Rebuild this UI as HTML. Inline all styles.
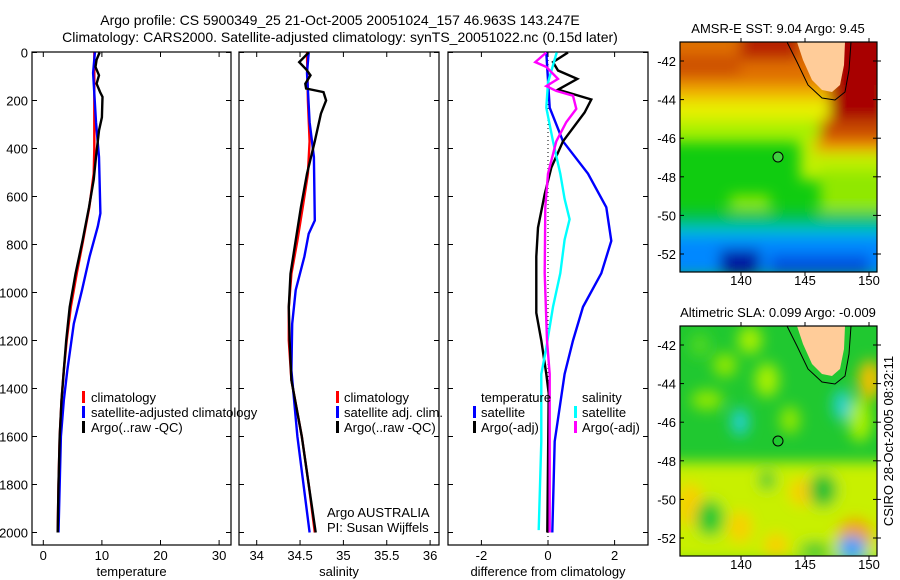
<!DOCTYPE html>
<html><head><meta charset="utf-8"><style>
html,body{margin:0;padding:0;background:#fff;}
svg{display:block;font-family:"Liberation Sans",sans-serif;}
</style></head><body>
<svg id="fig" width="900" height="580" viewBox="0 0 900 580" xmlns="http://www.w3.org/2000/svg">
<defs>
<filter id="bl" x="-20%" y="-20%" width="140%" height="140%"><feGaussianBlur stdDeviation="7"/></filter>
<clipPath id="c1"><rect x="680" y="42" width="197" height="230"/></clipPath>
<clipPath id="c2"><rect x="680" y="326" width="197" height="230"/></clipPath>
<clipPath id="p1"><rect x="32" y="52" width="199" height="493"/></clipPath>
<clipPath id="p2"><rect x="239" y="52" width="200" height="493"/></clipPath>
<clipPath id="p3"><rect x="448" y="52" width="200" height="493"/></clipPath>
</defs>
<text x="340" y="25" font-size="14" text-anchor="middle">Argo profile: CS 5900349_25 21-Oct-2005 20051024_157 46.963S 143.247E</text>
<text x="340" y="42" font-size="14" text-anchor="middle">Climatology: CARS2000. Satellite-adjusted climatology: synTS_20051022.nc (0.15d later)</text>

<!-- SST map -->
<g clip-path="url(#c1)">
<rect x="680" y="42" width="197" height="230" fill="#10cc10"/>
<g filter="url(#bl)">
<rect x="660" y="30" width="240" height="60" fill="#e07000"/>
<rect x="740" y="30" width="60" height="30" fill="#b82000"/>
<rect x="660" y="55" width="80" height="20" fill="#cc5000"/>
<rect x="660" y="85" width="240" height="20" fill="#f0b000"/>
<rect x="660" y="100" width="240" height="22" fill="#e8f000"/>
<rect x="660" y="120" width="240" height="22" fill="#a8f000"/>
<rect x="800" y="140" width="100" height="40" fill="#c0f000"/>
<rect x="820" y="170" width="80" height="50" fill="#90e800"/>
<rect x="730" y="195" width="40" height="15" fill="#90e800"/>
<rect x="660" y="212" width="240" height="14" fill="#00c060"/>
<rect x="660" y="226" width="240" height="12" fill="#00c0d0"/>
<rect x="660" y="236" width="240" height="40" fill="#0088ff"/>
<rect x="720" y="250" width="40" height="25" fill="#0010a0"/>
<rect x="770" y="255" width="100" height="20" fill="#0050e0"/>
<rect x="830" y="30" width="60" height="110" fill="#a80000"/>
<rect x="820" y="120" width="70" height="25" fill="#c84800"/>
<rect x="815" y="140" width="75" height="12" fill="#f09000"/>
</g>
<path d="M797,42 L803,60 L812,80 L822,90 L832,92 L840,85 L844,65 L845,42 Z" fill="#ffcc99"/>
<path d="M787,42 L797,62 L808,85 L822,98 L835,100 L845,92 L849,70 L851,42" fill="none" stroke="#000" stroke-width="1"/>
<circle cx="778" cy="157" r="5" fill="#40d040" stroke="#000" stroke-width="1"/>
</g>
<rect x="680" y="42" width="197" height="230" fill="none" stroke="#000" stroke-width="1.2"/>
<text x="778" y="33" font-size="13" text-anchor="middle">AMSR-E SST: 9.04 Argo: 9.45</text>

<!-- SLA map -->
<g clip-path="url(#c2)">
<rect x="680" y="326" width="197" height="230" fill="#20c830"/>
<g filter="url(#bl)">
<rect x="660" y="462" width="240" height="100" fill="#c8f000"/>
<ellipse cx="750" cy="340" rx="12" ry="14" fill="#a8f000"/>
<ellipse cx="767" cy="380" rx="12" ry="17" fill="#a8f000"/>
<ellipse cx="707" cy="400" rx="16" ry="10" fill="#90e800"/>
<ellipse cx="860" cy="420" rx="12" ry="22" fill="#a8f000"/>
<ellipse cx="725" cy="365" rx="12" ry="12" fill="#90e800"/>
<ellipse cx="790" cy="420" rx="10" ry="14" fill="#90e800"/>
<ellipse cx="700" cy="345" rx="10" ry="12" fill="#50d820"/>
<ellipse cx="870" cy="380" rx="12" ry="20" fill="#f0c000"/>
<ellipse cx="690" cy="505" rx="14" ry="22" fill="#f8d000"/>
<ellipse cx="740" cy="527" rx="12" ry="16" fill="#f8d000"/>
<ellipse cx="803" cy="492" rx="14" ry="14" fill="#f8d000"/>
<ellipse cx="855" cy="535" rx="18" ry="17" fill="#f0a000"/>
<ellipse cx="776" cy="545" rx="12" ry="12" fill="#f8d000"/>
<ellipse cx="710" cy="518" rx="14" ry="18" fill="#20c830"/>
<ellipse cx="823" cy="490" rx="14" ry="17" fill="#20c030"/>
<ellipse cx="767" cy="480" rx="8" ry="10" fill="#30c830"/>
<ellipse cx="815" cy="550" rx="16" ry="8" fill="#30c830"/>
<ellipse cx="740" cy="422" rx="9" ry="14" fill="#20d0d0"/>
<ellipse cx="842" cy="405" rx="9" ry="16" fill="#20d0d0"/>
<ellipse cx="852" cy="548" rx="14" ry="12" fill="#30a0ff"/>
</g>
<path d="M797,326 L803,344 L812,364 L822,374 L832,376 L840,369 L844,349 L845,326 Z" fill="#ffcc99"/>
<path d="M787,326 L797,346 L808,369 L822,382 L835,384 L845,376 L849,354 L851,326" fill="none" stroke="#000" stroke-width="1"/>
<circle cx="778" cy="441" r="5" fill="#20c830" stroke="#000" stroke-width="1"/>
</g>
<rect x="680" y="326" width="197" height="230" fill="none" stroke="#000" stroke-width="1.2"/>
<text x="778" y="317" font-size="13" text-anchor="middle">Altimetric SLA: 0.099 Argo: -0.009</text>
<text x="0" y="0" font-size="13" text-anchor="middle" transform="translate(893,441) rotate(-90)">CSIRO 28-Oct-2005 08:32:11</text>

<g id="axes"></g>
<g id="lines"></g>
<g id="legends">
<rect x="82" y="391" width="3" height="12" fill="#f00"/><text x="91" y="402" font-size="13">climatology</text>
<rect x="82" y="406" width="3" height="12" fill="#00f"/><text x="91" y="417" font-size="13">satellite-adjusted climatology</text>
<rect x="82" y="421" width="3" height="12" fill="#000"/><text x="91" y="432" font-size="13">Argo(..raw -QC)</text>
<rect x="336" y="391" width="3" height="12" fill="#f00"/><text x="344" y="402" font-size="13">climatology</text>
<rect x="336" y="406" width="3" height="12" fill="#00f"/><text x="344" y="417" font-size="13">satellite adj. clim.</text>
<rect x="336" y="421" width="3" height="12" fill="#000"/><text x="344" y="432" font-size="13">Argo(..raw -QC)</text>
<text x="327" y="517" font-size="13">Argo AUSTRALIA</text>
<text x="327" y="532" font-size="13">PI: Susan Wijffels</text>
<text x="481" y="402" font-size="13">temperature</text>
<rect x="473" y="406" width="3" height="12" fill="#00f"/><text x="481" y="417" font-size="13">satellite</text>
<rect x="473" y="421" width="3" height="12" fill="#000"/><text x="481" y="432" font-size="13">Argo(-adj)</text>
<text x="582" y="402" font-size="13">salinity</text>
<rect x="574" y="406" width="3" height="12" fill="#0ff"/><text x="582" y="417" font-size="13">satellite</text>
<rect x="574" y="421" width="3" height="12" fill="#f0f"/><text x="582" y="432" font-size="13">Argo(-adj)</text>
</g>
</svg>
<script>
// depth ticks
const depthTicks = [0,200,400,600,800,1000,1200,1400,1600,1800,2000];
const tTicks = [0,10,20,30];
const sTicks = [34,34.5,35,35.5,36];
const dTicks = [-2,0,2];
const latTicks = [-42,-44,-46,-48,-50,-52];
const lonTicks = [140,145,150];
// temperature panel
const tClimD = [0,100,200,300,400,505,645,783,922,1061,1200,1325,1450,1600,1800,2000];
const tClimV = [8.7,8.7,8.7,8.7,8.7,8.6,7.85,6.8,5.7,4.7,4.0,3.5,3.1,2.8,2.6,2.45];
const tSatD = [0,85,290,435,670,725,850,990,1130,1325,1450,1600,1800,2000];
const tSatV = [8.8,8.5,9.0,9.5,9.75,9.3,7.9,6.6,5.2,4.1,3.5,3.0,2.8,2.6];
const tArgoD = [0,30,60,95,130,165,185,270,325,435,530,645,783,922,1061,1200,1325,1450,1600,1800,2000];
const tArgoV = [9.6,9.1,8.9,9.5,9.1,9.7,10.1,10.0,9.5,9.0,8.6,7.8,6.7,5.5,4.5,3.9,3.5,3.1,2.8,2.6,2.45];
// salinity panel
const sClimD = [0,200,370,505,645,783,922,1061,1200,1365,1600,1800,2000];
const sClimV = [34.58,34.59,34.61,34.59,34.53,34.47,34.40,34.37,34.37,34.40,34.52,34.60,34.67];
const sSatD = [0,85,290,435,700,755,850,990,1130,1325,1600,1800,2000];
const sSatV = [34.60,34.58,34.61,34.66,34.67,34.60,34.55,34.45,34.41,34.40,34.47,34.54,34.61];
const sArgoD = [0,40,70,95,130,150,165,200,255,370,505,645,783,922,1061,1200,1365,1600,1800,2000];
const sArgoV = [34.60,34.49,34.57,34.62,34.56,34.57,34.77,34.80,34.74,34.67,34.58,34.51,34.45,34.39,34.37,34.38,34.40,34.52,34.60,34.68];
// difference panel
const dTSatD = [0,230,370,505,645,785,920,1060,1200,1340,1620,2000];
const dTSatV = [-0.05,0.05,0.45,1.2,1.75,1.9,1.6,1.05,0.75,0.5,0.2,0.13];
const dTArgoD = [0,40,75,110,155,175,196,250,370,480,590,730,850,1085,1200,1340,1420,2000];
const dTArgoV = [0.6,0.15,0.3,0.88,0.3,0.8,1.3,1.1,0.45,0.1,-0.1,-0.3,-0.35,-0.35,-0.2,-0.05,0.02,-0.02];
const dSSatD = [0,125,230,370,505,610,695,780,920,1060,1230,1340,1620,1990];
const dSSatV = [0.26,0,-0.05,0.15,0.37,0.5,0.65,0.5,0.37,0.15,-0.05,-0.2,-0.2,-0.28];
const dSArgoD = [0,40,60,110,140,160,180,235,290,370,505,645,920,1200,1340,2000];
const dSArgoV = [-0.05,-0.38,-0.05,0.3,-0.05,0.25,0.75,0.85,0.55,0.25,0,-0.08,-0.1,-0.03,0.05,0.05];

const NS='http://www.w3.org/2000/svg';
const yD = d => 52.5 + d*0.24;
const xT = v => 43.3 + v*5.86;
const xS = v => 256.7 + (v-34)*86.7;
const xDf = v => 548 + v*33.3;
const yLat1 = l => 61 + (-42 - l)*19.3;
const yLat2 = l => 345 + (-42 - l)*19.3;
const xLon = l => 741 + (l-140)*12.8;
const axes=document.getElementById('axes'), lines=document.getElementById('lines');
function mk(tag, attrs, parent){const e=document.createElementNS(NS,tag);for(const k in attrs)e.setAttribute(k,attrs[k]);parent.appendChild(e);return e;}
const panels=[
 {x0:32,x1:231,ticks:tTicks,fx:xT,lbl:'temperature',name:'temperature-panel',clip:'p1',fmt:v=>v},
 {x0:239,x1:439,ticks:sTicks,fx:xS,lbl:'salinity',name:'salinity-panel',clip:'p2',fmt:v=>v},
 {x0:448,x1:648,ticks:dTicks,fx:xDf,lbl:'difference from climatology',name:'difference-panel',clip:'p3',fmt:v=>v}];
panels.forEach((p,i)=>{
 const r=mk('rect',{x:p.x0,y:52,width:p.x1-p.x0,height:493,fill:'none',stroke:'#000','stroke-width':1.2},axes);
 
 
 depthTicks.forEach(d=>{
  mk('line',{x1:p.x0,x2:p.x0+5,y1:yD(d),y2:yD(d),stroke:'#000'},axes);
  mk('line',{x1:p.x1-5,x2:p.x1,y1:yD(d),y2:yD(d),stroke:'#000'},axes);
  if(i===0){const t=mk('text',{x:28,y:yD(d)+5,'font-size':13,'text-anchor':'end'},axes);t.textContent=d;
   
   }
 });
 p.ticks.forEach(v=>{
  const x=p.fx(v);
  mk('line',{x1:x,x2:x,y1:52,y2:57,stroke:'#000'},axes);
  mk('line',{x1:x,x2:x,y1:540,y2:545,stroke:'#000'},axes);
  const t=mk('text',{x:x,y:560,'font-size':13,'text-anchor':'middle'},axes);t.textContent=p.fmt(v);
  
  
 });
 const xl=mk('text',{x:(p.x0+p.x1)/2,y:576,'font-size':13,'text-anchor':'middle'},axes);xl.textContent=p.lbl;
 
 
});
mk('line',{x1:xDf(0),x2:xDf(0),y1:52,y2:545,stroke:'#000','stroke-dasharray':'1,3'},axes);
[[yLat1,42,272,285],[yLat2,326,556,569]].forEach(([fy,top,bot,ly])=>{
 latTicks.forEach(l=>{
  const y=fy(l);
  mk('line',{x1:680,x2:684,y1:y,y2:y,stroke:'#000'},axes);
  mk('line',{x1:873,x2:881,y1:y,y2:y,stroke:'#000'},axes);
  const t=mk('text',{x:676,y:y+5,'font-size':13,'text-anchor':'end'},axes);t.textContent=l;
  
  
 });
 lonTicks.forEach(l=>{
  const x=xLon(l);
  mk('line',{x1:x,x2:x,y1:top-4,y2:top,stroke:'#000'},axes);
  mk('line',{x1:x,x2:x,y1:bot,y2:bot+4,stroke:'#000'},axes);
  const t=mk('text',{x:x,y:ly,'font-size':13,'text-anchor':'middle'},axes);t.textContent=l;
  
  
 });
});
function series(D,V,fx,color,clip,name){
 const pts=D.map((d,i)=>fx(V[i]).toFixed(1)+','+yD(d).toFixed(1)).join(' ');
 const e=mk('polyline',{points:pts,fill:'none',stroke:color,'stroke-width':2.4,'clip-path':'url(#'+clip+')'},lines);
 
 
}
series(tClimD,tClimV,xT,'#f00','p1','temp-climatology-line');
series(tSatD,tSatV,xT,'#00f','p1','temp-satellite-line');
series(tArgoD,tArgoV,xT,'#000','p1','temp-argo-line');
series(sClimD,sClimV,xS,'#f00','p2','sal-climatology-line');
series(sSatD,sSatV,xS,'#00f','p2','sal-satellite-line');
series(sArgoD,sArgoV,xS,'#000','p2','sal-argo-line');
series(dTSatD,dTSatV,xDf,'#00f','p3','diff-temp-satellite-line');
series(dTArgoD,dTArgoV,xDf,'#000','p3','diff-temp-argo-line');
series(dSSatD,dSSatV,xDf,'#0ff','p3','diff-sal-satellite-line');
series(dSArgoD,dSArgoV,xDf,'#f0f','p3','diff-sal-argo-line');
</script>
</body></html>
